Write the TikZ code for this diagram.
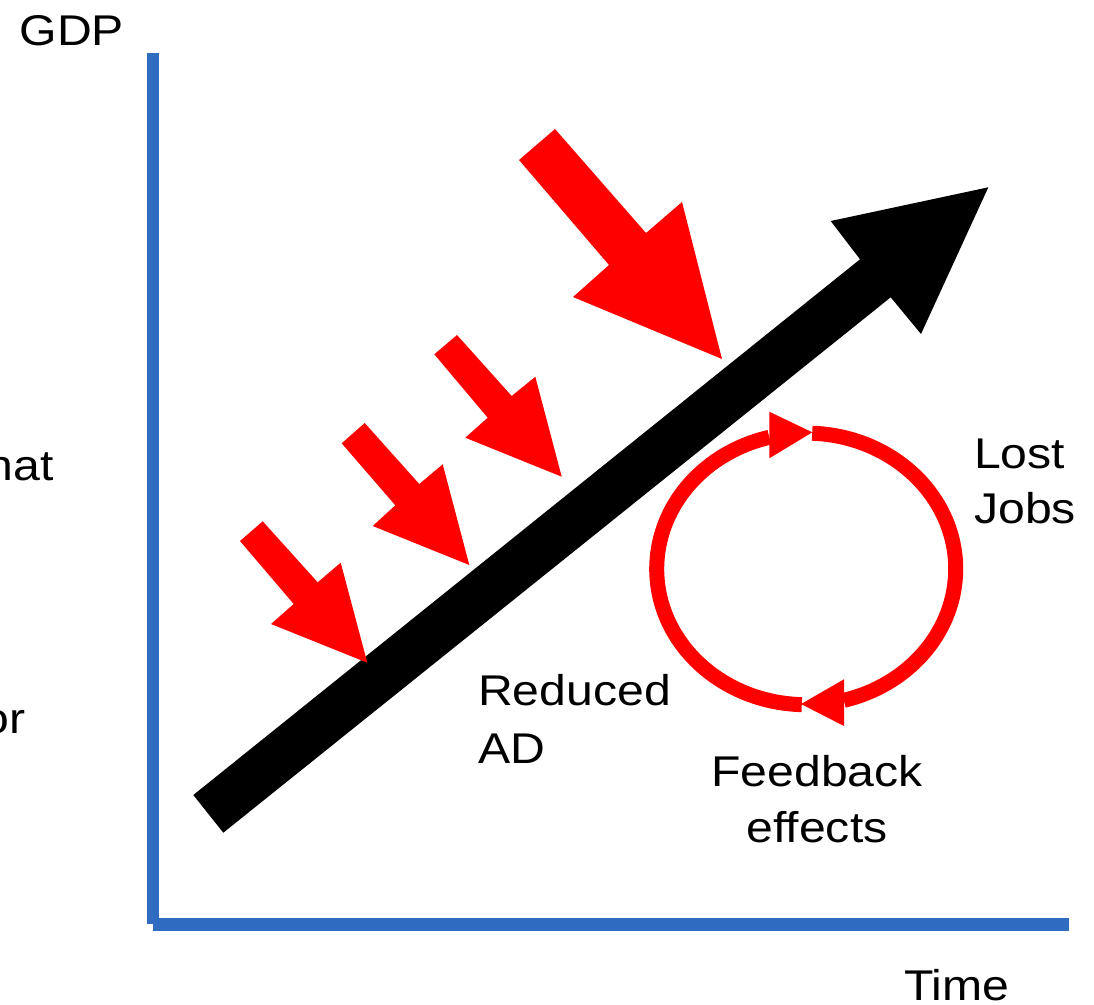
\documentclass[tikz,border=0pt]{standalone}
\usepackage{fontspec}
\setmainfont{Liberation Sans}[FakeStretch=1.12]
\definecolor{axisblue}{RGB}{47,107,193}
\definecolor{shockred}{RGB}{255,0,0}

\begin{document}
\begin{tikzpicture}[x=1pt,y=-1pt,
  axisline/.style={draw=axisblue, line width=12.4pt},
  txt/.style={inner sep=0pt, font=\fontsize{43}{57}\selectfont},
  shock/.style={fill=shockred, draw=none},
  trend/.style={fill=black, draw=none},
  loopline/.style={draw=shockred, line width=15pt},
  loophead/.style={fill=shockred, draw=none}]

\useasboundingbox (0,0) rectangle (1094,1004);
\clip (0,0) rectangle (1094,1004);

% axes
\coordinate (ytop) at (153,53.3);
\coordinate (ybot) at (153,924.3);
\coordinate (xleft) at (152.7,924.5);
\coordinate (xright) at (1069,924.5);
\draw[axisline] (ytop) -- (ybot);
\draw[axisline] (xleft) -- (xright);

% rising GDP trend arrow
\fill[trend] (193.3,795) -- (860,259.3) -- (830.7,221) -- (988.3,187.3)
  -- (921,334) -- (890.7,297.3) -- (223.3,832.7) -- cycle;

% downward demand shocks
\fill[shock] (519,160) -- (555,129) -- (646,233) -- (682,202) -- (722,359)
  -- (573,297) -- (609,265) -- cycle;
\fill[shock] (434.3,354.3) -- (457,335) -- (511.7,396) -- (535.3,376.7)
  -- (561.7,476.7) -- (465.3,437.7) -- (487.7,417.7) -- cycle;
\fill[shock] (341.7,443.3) -- (364.7,423) -- (419.3,484) -- (442.7,464.3)
  -- (469.3,565) -- (372.7,526) -- (395.3,505.3) -- cycle;
\fill[shock] (240,541) -- (262.7,521.3) -- (317.7,582.3) -- (340.7,562.7)
  -- (367.3,662.7) -- (271,624) -- (293.7,604) -- cycle;

% feedback loop
\coordinate (loopc) at (806.2,568.9);
\draw[loopline] (loopc) ++(-87.7:149.5 and 135.8)
  arc[start angle=-87.7, end angle=75.4, x radius=149.5, y radius=135.8];
\fill[loophead] (844,679.3) -- (844,726) -- (801,704) -- cycle;
\draw[loopline] (loopc) ++(91.7:149.5 and 135.8)
  arc[start angle=91.7, end angle=255.7, x radius=149.5, y radius=135.8];
\fill[loophead] (769.3,411.7) -- (769.3,458.3) -- (812.3,432.3) -- cycle;

% labels (multi-line nodes are placed by the baseline of their last line)
\node[txt, anchor=base west] (gdp) at (19.5,45) {GDP};
\node[txt, anchor=base west] (time) at (904,1000) {Time};
\node[txt, anchor=base east] (hatfrag) at (54,480) {hat};
\node[txt, anchor=base east] (orfrag) at (25.5,733) {or};
\node[txt, anchor=base west, align=left, font=\fontsize{43}{58}\selectfont]
  (reduced) at (478,763) {Reduced\\AD};
\node[txt, anchor=base west, align=left, font=\fontsize{43}{55}\selectfont]
  (lostjobs) at (974,523.5) {Lost\\Jobs};
\node[txt, anchor=base, align=center, font=\fontsize{43}{56}\selectfont]
  (feedback) at (817,842.5) {Feedback\\effects};
\end{tikzpicture}
\end{document}
